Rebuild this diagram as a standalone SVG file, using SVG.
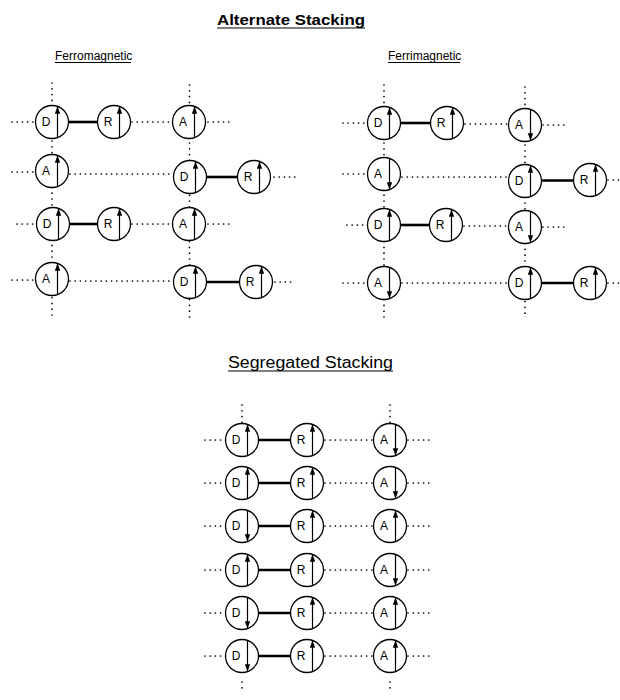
<svg xmlns="http://www.w3.org/2000/svg" width="620" height="700" viewBox="0 0 620 700">
<defs>
<marker id="ah" viewBox="0 0 8 6" refX="8" refY="3" markerWidth="8" markerHeight="5.4" markerUnits="userSpaceOnUse" orient="auto"><path d="M0,0 L8,3 L0,6 z" fill="#000"/></marker>
<style>
.t{font-family:"Liberation Sans",Arial,sans-serif;fill:#000}
.title{font-size:15.5px;font-weight:bold}
.sub{font-size:12px}
.ul{stroke:#000;stroke-width:1.2}
.node circle{fill:#fff;stroke:#000;stroke-width:1.3}
.node text{font-family:"Liberation Sans",Arial,sans-serif;font-size:12px;text-anchor:middle;fill:#000}
.node line{stroke:#000;stroke-width:1.2;marker-end:url(#ah)}
.dot{stroke:#000;stroke-width:1.7;stroke-dasharray:0 5.2;stroke-linecap:round;fill:none}
.vdot{stroke:#000;stroke-width:1.7;stroke-dasharray:0 5.8;stroke-linecap:round;fill:none}
.bond{stroke:#000;stroke-width:2.6}
</style>
</defs>
<rect width="620" height="700" fill="#fff"/>

<g id="titles">
<text class="t title" x="217" y="25" textLength="148" lengthAdjust="spacingAndGlyphs">Alternate Stacking</text>
<line class="ul" x1="217" y1="28" x2="365" y2="28"/>
<text class="t sub" x="55" y="60">Ferromagnetic</text>
<line class="ul" x1="55" y1="62.5" x2="131" y2="62.5"/>
<text class="t sub" x="388" y="60">Ferrimagnetic</text>
<line class="ul" x1="388" y1="62.5" x2="460" y2="62.5"/>
<text class="t" x="228" y="368" font-size="16" textLength="165" lengthAdjust="spacingAndGlyphs">Segregated Stacking</text>
<line class="ul" x1="228" y1="371" x2="393" y2="371"/>
</g>

<g id="connectors">
<line class="vdot" x1="52" y1="83" x2="52" y2="318"/>
<line class="vdot" x1="189.5" y1="85" x2="189.5" y2="318"/>
<line class="vdot" x1="384" y1="85" x2="384" y2="318"/>
<line class="vdot" x1="525" y1="87" x2="525" y2="318"/>
<line class="vdot" x1="242" y1="405" x2="242" y2="423"/>
<line class="vdot" x1="390" y1="405" x2="390" y2="423"/>
<line class="vdot" x1="242" y1="682" x2="242" y2="690"/>
<line class="vdot" x1="390" y1="682" x2="390" y2="690"/>
<line class="dot" x1="12" y1="122" x2="35" y2="122"/>
<line class="dot" x1="132" y1="122" x2="172" y2="122"/>
<line class="dot" x1="208" y1="122" x2="230" y2="122"/>
<line class="dot" x1="12" y1="172" x2="35" y2="172"/>
<line class="dot" x1="70" y1="174" x2="174" y2="174"/>
<line class="dot" x1="274" y1="177" x2="295" y2="177"/>
<line class="dot" x1="17" y1="224" x2="36" y2="224"/>
<line class="dot" x1="132" y1="224" x2="172" y2="224"/>
<line class="dot" x1="208" y1="224" x2="230" y2="224"/>
<line class="dot" x1="12" y1="280" x2="35" y2="280"/>
<line class="dot" x1="70" y1="281" x2="174" y2="281"/>
<line class="dot" x1="275" y1="282" x2="295" y2="282"/>
<line class="dot" x1="343" y1="123" x2="367" y2="123"/>
<line class="dot" x1="465" y1="124" x2="508" y2="124"/>
<line class="dot" x1="543" y1="125" x2="567" y2="125"/>
<line class="dot" x1="343" y1="174" x2="367" y2="174"/>
<line class="dot" x1="402" y1="177" x2="508" y2="177"/>
<line class="dot" x1="608" y1="180" x2="620" y2="180"/>
<line class="dot" x1="347" y1="225" x2="367" y2="225"/>
<line class="dot" x1="464" y1="226" x2="508" y2="226"/>
<line class="dot" x1="543" y1="227" x2="567" y2="227"/>
<line class="dot" x1="343" y1="283" x2="367" y2="283"/>
<line class="dot" x1="402" y1="283" x2="508" y2="283"/>
<line class="dot" x1="608" y1="283" x2="620" y2="283"/>
<line class="dot" x1="205" y1="440" x2="225" y2="440"/>
<line class="dot" x1="325" y1="440" x2="373" y2="440"/>
<line class="dot" x1="408" y1="440" x2="430" y2="440"/>
<line class="dot" x1="205" y1="483" x2="225" y2="483"/>
<line class="dot" x1="325" y1="483" x2="373" y2="483"/>
<line class="dot" x1="408" y1="483" x2="430" y2="483"/>
<line class="dot" x1="205" y1="526" x2="225" y2="526"/>
<line class="dot" x1="325" y1="526" x2="373" y2="526"/>
<line class="dot" x1="408" y1="526" x2="430" y2="526"/>
<line class="dot" x1="205" y1="570" x2="225" y2="570"/>
<line class="dot" x1="325" y1="570" x2="373" y2="570"/>
<line class="dot" x1="408" y1="570" x2="430" y2="570"/>
<line class="dot" x1="205" y1="613" x2="225" y2="613"/>
<line class="dot" x1="325" y1="613" x2="373" y2="613"/>
<line class="dot" x1="408" y1="613" x2="430" y2="613"/>
<line class="dot" x1="205" y1="656" x2="225" y2="656"/>
<line class="dot" x1="325" y1="656" x2="373" y2="656"/>
<line class="dot" x1="408" y1="656" x2="430" y2="656"/>
<line class="bond" x1="68.5" y1="122" x2="97.5" y2="122"/>
<line class="bond" x1="206.5" y1="177" x2="237.5" y2="177"/>
<line class="bond" x1="69.5" y1="224" x2="97.5" y2="224"/>
<line class="bond" x1="206.5" y1="282" x2="239.5" y2="282"/>
<line class="bond" x1="400.5" y1="123" x2="430.5" y2="123"/>
<line class="bond" x1="541.5" y1="180.5" x2="573.5" y2="180.5"/>
<line class="bond" x1="400.5" y1="225" x2="429.5" y2="225"/>
<line class="bond" x1="541.5" y1="283" x2="573.5" y2="283"/>
<line class="bond" x1="258.5" y1="440" x2="290.5" y2="440"/>
<line class="bond" x1="258.5" y1="483" x2="290.5" y2="483"/>
<line class="bond" x1="258.5" y1="526" x2="290.5" y2="526"/>
<line class="bond" x1="258.5" y1="570" x2="290.5" y2="570"/>
<line class="bond" x1="258.5" y1="613" x2="290.5" y2="613"/>
<line class="bond" x1="258.5" y1="656" x2="290.5" y2="656"/>
</g>

<g id="f1D" class="node"><circle cx="52" cy="122" r="16.5"/><text x="46" y="126.3">D</text><line x1="57.5" y1="137" x2="57.5" y2="106.5"/></g>
<g id="f1R" class="node"><circle cx="114" cy="122" r="16.5"/><text x="108" y="126.3">R</text><line x1="119.5" y1="137" x2="119.5" y2="106.5"/></g>
<g id="f1A" class="node"><circle cx="189" cy="122" r="16.5"/><text x="183" y="126.3">A</text><line x1="194.5" y1="137" x2="194.5" y2="106.5"/></g>
<g id="f2A" class="node"><circle cx="52" cy="171" r="16.5"/><text x="46" y="175.3">A</text><line x1="57.5" y1="186" x2="57.5" y2="155.5"/></g>
<g id="f2D" class="node"><circle cx="190" cy="177" r="16.5"/><text x="184" y="181.3">D</text><line x1="195.5" y1="192" x2="195.5" y2="161.5"/></g>
<g id="f2R" class="node"><circle cx="254" cy="177" r="16.5"/><text x="248" y="181.3">R</text><line x1="259.5" y1="192" x2="259.5" y2="161.5"/></g>
<g id="f3D" class="node"><circle cx="53" cy="224" r="16.5"/><text x="47" y="228.3">D</text><line x1="58.5" y1="239" x2="58.5" y2="208.5"/></g>
<g id="f3R" class="node"><circle cx="114" cy="224" r="16.5"/><text x="108" y="228.3">R</text><line x1="119.5" y1="239" x2="119.5" y2="208.5"/></g>
<g id="f3A" class="node"><circle cx="189" cy="224" r="16.5"/><text x="183" y="228.3">A</text><line x1="194.5" y1="239" x2="194.5" y2="208.5"/></g>
<g id="f4A" class="node"><circle cx="52" cy="279" r="16.5"/><text x="46" y="283.3">A</text><line x1="57.5" y1="294" x2="57.5" y2="263.5"/></g>
<g id="f4D" class="node"><circle cx="190" cy="282" r="16.5"/><text x="184" y="286.3">D</text><line x1="195.5" y1="297" x2="195.5" y2="266.5"/></g>
<g id="f4R" class="node"><circle cx="256" cy="282" r="16.5"/><text x="250" y="286.3">R</text><line x1="261.5" y1="297" x2="261.5" y2="266.5"/></g>

<g id="i1D" class="node"><circle cx="384" cy="123" r="16.5"/><text x="378" y="127.3">D</text><line x1="389.5" y1="138" x2="389.5" y2="107.5"/></g>
<g id="i1R" class="node"><circle cx="447" cy="123" r="16.5"/><text x="441" y="127.3">R</text><line x1="452.5" y1="138" x2="452.5" y2="107.5"/></g>
<g id="i1A" class="node"><circle cx="525" cy="125" r="16.5"/><text x="519" y="129.3">A</text><line x1="530.5" y1="110" x2="530.5" y2="140.5"/></g>
<g id="i2A" class="node"><circle cx="384" cy="174" r="16.5"/><text x="378" y="178.3">A</text><line x1="389.5" y1="159" x2="389.5" y2="189.5"/></g>
<g id="i2D" class="node"><circle cx="525" cy="181" r="16.5"/><text x="519" y="185.3">D</text><line x1="530.5" y1="196" x2="530.5" y2="165.5"/></g>
<g id="i2R" class="node"><circle cx="590" cy="180" r="16.5"/><text x="584" y="184.3">R</text><line x1="595.5" y1="195" x2="595.5" y2="164.5"/></g>
<g id="i3D" class="node"><circle cx="384" cy="225" r="16.5"/><text x="378" y="229.3">D</text><line x1="389.5" y1="240" x2="389.5" y2="209.5"/></g>
<g id="i3R" class="node"><circle cx="446" cy="225" r="16.5"/><text x="440" y="229.3">R</text><line x1="451.5" y1="240" x2="451.5" y2="209.5"/></g>
<g id="i3A" class="node"><circle cx="525" cy="227" r="16.5"/><text x="519" y="231.3">A</text><line x1="530.5" y1="212" x2="530.5" y2="242.5"/></g>
<g id="i4A" class="node"><circle cx="384" cy="283" r="16.5"/><text x="378" y="287.3">A</text><line x1="389.5" y1="268" x2="389.5" y2="298.5"/></g>
<g id="i4D" class="node"><circle cx="525" cy="283" r="16.5"/><text x="519" y="287.3">D</text><line x1="530.5" y1="298" x2="530.5" y2="267.5"/></g>
<g id="i4R" class="node"><circle cx="590" cy="283" r="16.5"/><text x="584" y="287.3">R</text><line x1="595.5" y1="298" x2="595.5" y2="267.5"/></g>

<g id="s1D" class="node"><circle cx="242" cy="440" r="16.5"/><text x="236" y="444.3">D</text><line x1="247.5" y1="455" x2="247.5" y2="424.5"/></g>
<g id="s1R" class="node"><circle cx="307" cy="440" r="16.5"/><text x="301" y="444.3">R</text><line x1="312.5" y1="455" x2="312.5" y2="424.5"/></g>
<g id="s1A" class="node"><circle cx="390" cy="440" r="16.5"/><text x="384" y="444.3">A</text><line x1="395.5" y1="425" x2="395.5" y2="455.5"/></g>
<g id="s2D" class="node"><circle cx="242" cy="483" r="16.5"/><text x="236" y="487.3">D</text><line x1="247.5" y1="498" x2="247.5" y2="467.5"/></g>
<g id="s2R" class="node"><circle cx="307" cy="483" r="16.5"/><text x="301" y="487.3">R</text><line x1="312.5" y1="498" x2="312.5" y2="467.5"/></g>
<g id="s2A" class="node"><circle cx="390" cy="483" r="16.5"/><text x="384" y="487.3">A</text><line x1="395.5" y1="468" x2="395.5" y2="498.5"/></g>
<g id="s3D" class="node"><circle cx="242" cy="526" r="16.5"/><text x="236" y="530.3">D</text><line x1="247.5" y1="511" x2="247.5" y2="541.5"/></g>
<g id="s3R" class="node"><circle cx="307" cy="526" r="16.5"/><text x="301" y="530.3">R</text><line x1="312.5" y1="541" x2="312.5" y2="510.5"/></g>
<g id="s3A" class="node"><circle cx="390" cy="526" r="16.5"/><text x="384" y="530.3">A</text><line x1="395.5" y1="541" x2="395.5" y2="510.5"/></g>
<g id="s4D" class="node"><circle cx="242" cy="570" r="16.5"/><text x="236" y="574.3">D</text><line x1="247.5" y1="585" x2="247.5" y2="554.5"/></g>
<g id="s4R" class="node"><circle cx="307" cy="570" r="16.5"/><text x="301" y="574.3">R</text><line x1="312.5" y1="585" x2="312.5" y2="554.5"/></g>
<g id="s4A" class="node"><circle cx="390" cy="570" r="16.5"/><text x="384" y="574.3">A</text><line x1="395.5" y1="555" x2="395.5" y2="585.5"/></g>
<g id="s5D" class="node"><circle cx="242" cy="613" r="16.5"/><text x="236" y="617.3">D</text><line x1="247.5" y1="598" x2="247.5" y2="628.5"/></g>
<g id="s5R" class="node"><circle cx="307" cy="613" r="16.5"/><text x="301" y="617.3">R</text><line x1="312.5" y1="628" x2="312.5" y2="597.5"/></g>
<g id="s5A" class="node"><circle cx="390" cy="613" r="16.5"/><text x="384" y="617.3">A</text><line x1="395.5" y1="628" x2="395.5" y2="597.5"/></g>
<g id="s6D" class="node"><circle cx="242" cy="656" r="16.5"/><text x="236" y="660.3">D</text><line x1="247.5" y1="641" x2="247.5" y2="671.5"/></g>
<g id="s6R" class="node"><circle cx="307" cy="656" r="16.5"/><text x="301" y="660.3">R</text><line x1="312.5" y1="671" x2="312.5" y2="640.5"/></g>
<g id="s6A" class="node"><circle cx="390" cy="656" r="16.5"/><text x="384" y="660.3">A</text><line x1="395.5" y1="671" x2="395.5" y2="640.5"/></g>
</svg>
